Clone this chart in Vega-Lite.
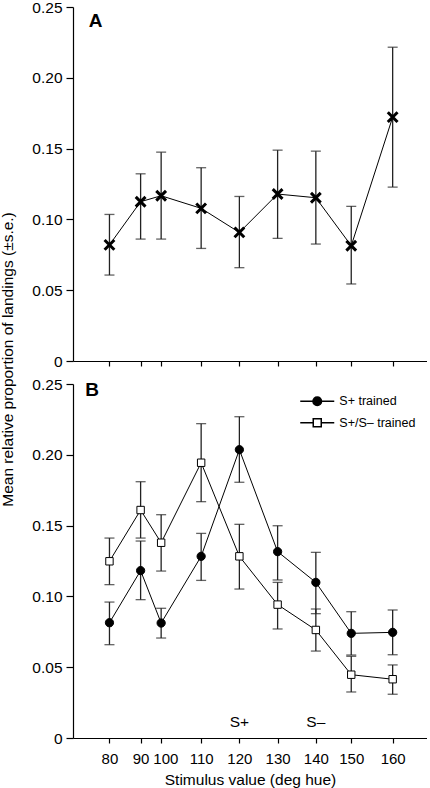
{
  "$schema": "https://vega.github.io/schema/vega-lite/v6.json",
  "background": "white",
  "padding": {"left": 0, "top": 0, "right": 0, "bottom": 0},
  "spacing": 23,
  "bounds": "flush",
  "resolve": {
    "scale": {"shape": "independent", "fill": "independent"},
    "legend": {"shape": "independent", "fill": "independent"}
  },
  "config": {
    "view": {"stroke": null},
    "font": "Liberation Sans",
    "axis": {
      "grid": false,
      "domainColor": "black",
      "domainWidth": 1.2,
      "tickColor": "black",
      "tickWidth": 1.2,
      "labelColor": "black",
      "titleColor": "black",
      "labelFont": "Liberation Sans",
      "titleFont": "Liberation Sans",
      "labelFontSize": 15.5,
      "titleFontSize": 15.5,
      "titleFontWeight": "normal"
    },
    "legend": {
      "labelFont": "Liberation Sans",
      "labelFontSize": 12.5,
      "labelColor": "black"
    }
  },
  "datasets": {
    "a": [
      {"hue": 80, "mean": 0.082, "lo": 0.0607, "hi": 0.1035},
      {"hue": 88.8, "mean": 0.1125, "lo": 0.0861, "hi": 0.1322},
      {"hue": 94.6, "mean": 0.1167, "lo": 0.0861, "hi": 0.1475},
      {"hue": 105.9, "mean": 0.1078, "lo": 0.0795, "hi": 0.1365},
      {"hue": 116.7, "mean": 0.0908, "lo": 0.0659, "hi": 0.1162},
      {"hue": 127.5, "mean": 0.1179, "lo": 0.0866, "hi": 0.1489},
      {"hue": 138.3, "mean": 0.1153, "lo": 0.0826, "hi": 0.1482},
      {"hue": 148.3, "mean": 0.0814, "lo": 0.0544, "hi": 0.1092},
      {"hue": 160, "mean": 0.1722, "lo": 0.1228, "hi": 0.2216}
    ],
    "b": [
      {"group": "S+ trained", "hue": 80, "mean": 0.0814, "lo": 0.0659, "hi": 0.096},
      {"group": "S+ trained", "hue": 88.8, "mean": 0.1182, "lo": 0.0977, "hi": 0.1391},
      {"group": "S+ trained", "hue": 94.6, "mean": 0.0812, "lo": 0.0706, "hi": 0.0916},
      {"group": "S+ trained", "hue": 105.9, "mean": 0.1283, "lo": 0.1113, "hi": 0.1445},
      {"group": "S+ trained", "hue": 116.7, "mean": 0.2036, "lo": 0.1806, "hi": 0.2269},
      {"group": "S+ trained", "hue": 127.5, "mean": 0.1316, "lo": 0.1116, "hi": 0.1499},
      {"group": "S+ trained", "hue": 138.3, "mean": 0.1099, "lo": 0.0878, "hi": 0.1311},
      {"group": "S+ trained", "hue": 148.3, "mean": 0.0739, "lo": 0.0586, "hi": 0.0892},
      {"group": "S+ trained", "hue": 160, "mean": 0.0746, "lo": 0.0588, "hi": 0.0904},
      {"group": "S+/S– trained", "hue": 80, "mean": 0.1248, "lo": 0.1083, "hi": 0.1412},
      {"group": "S+/S– trained", "hue": 88.8, "mean": 0.161, "lo": 0.1412, "hi": 0.181},
      {"group": "S+/S– trained", "hue": 94.6, "mean": 0.1379, "lo": 0.1179, "hi": 0.1577},
      {"group": "S+/S– trained", "hue": 105.9, "mean": 0.1944, "lo": 0.1669, "hi": 0.222},
      {"group": "S+/S– trained", "hue": 116.7, "mean": 0.1283, "lo": 0.1052, "hi": 0.1509},
      {"group": "S+/S– trained", "hue": 127.5, "mean": 0.0942, "lo": 0.077, "hi": 0.1099},
      {"group": "S+/S– trained", "hue": 138.3, "mean": 0.0763, "lo": 0.0614, "hi": 0.0911},
      {"group": "S+/S– trained", "hue": 148.3, "mean": 0.0447, "lo": 0.0325, "hi": 0.0577},
      {"group": "S+/S– trained", "hue": 160, "mean": 0.0415, "lo": 0.0309, "hi": 0.0516}
    ],
    "notes": [
      {"hue": 116.7, "label": "S+"},
      {"hue": 138.3, "label": "S–"}
    ],
    "letterA": [{"hue": 76.1, "label": "A"}],
    "letterB": [{"hue": 75.1, "label": "B"}]
  },
  "vconcat": [
    {
      "width": 354,
      "height": 354,
      "layer": [
        {
          "data": {"name": "a"},
          "mark": {"type": "rule", "color": "#222", "strokeWidth": 1.3},
          "encoding": {
            "x": {
              "field": "hue", "type": "quantitative",
              "scale": {"domain": [69.7, 169.7], "nice": false, "zero": false},
              "axis": {"values": [80, 88.8, 94.6, 105.9, 116.7, 127.5, 138.3, 148.3, 160], "labels": false, "title": null, "tickSize": 5}
            },
            "y": {
              "field": "lo", "type": "quantitative", "title": null,
              "scale": {"domain": [0, 0.25], "nice": false},
              "axis": {"values": [0, 0.05, 0.1, 0.15, 0.2, 0.25], "labelExpr": "datum.value == 0 ? '0' : format(datum.value, '.2f')", "tickSize": 7, "labelPadding": 4, "title": null}
            },
            "y2": {"field": "hi"}
          }
        },
        {
          "data": {"name": "a"},
          "mark": {"type": "tick", "orient": "horizontal", "color": "#222", "size": 10, "thickness": 1.3},
          "encoding": {
            "x": {"field": "hue", "type": "quantitative"},
            "y": {"field": "lo", "type": "quantitative", "title": null}
          }
        },
        {
          "data": {"name": "a"},
          "mark": {"type": "tick", "orient": "horizontal", "color": "#222", "size": 10, "thickness": 1.3},
          "encoding": {
            "x": {"field": "hue", "type": "quantitative"},
            "y": {"field": "hi", "type": "quantitative", "title": null}
          }
        },
        {
          "data": {"name": "a"},
          "mark": {"type": "line", "color": "black", "strokeWidth": 1},
          "encoding": {
            "x": {"field": "hue", "type": "quantitative"},
            "y": {"field": "mean", "type": "quantitative", "title": null}
          }
        },
        {
          "data": {"name": "a"},
          "mark": {"type": "point", "shape": "M-1,-1L1,1M-1,1L1,-1", "size": 95, "color": "black", "strokeWidth": 3, "opacity": 1, "filled": false},
          "encoding": {
            "x": {"field": "hue", "type": "quantitative"},
            "y": {"field": "mean", "type": "quantitative", "title": null}
          }
        },
        {
          "data": {"name": "letterA"},
          "mark": {"type": "text", "fontSize": 19, "fontWeight": "bold", "baseline": "alphabetic", "align": "center", "color": "black"},
          "encoding": {
            "x": {"field": "hue", "type": "quantitative"},
            "y": {"datum": 0.236, "type": "quantitative"},
            "text": {"field": "label", "type": "nominal"}
          }
        }
      ]
    },
    {
      "width": 354,
      "height": 354,
      "layer": [
        {
          "data": {"name": "b"},
          "mark": {"type": "rule", "color": "#222", "strokeWidth": 1.3},
          "encoding": {
            "x": {
              "field": "hue", "type": "quantitative",
              "scale": {"domain": [69.7, 169.7], "nice": false, "zero": false},
              "axis": {
                "values": [80, 88.8, 94.6, 105.9, 116.7, 127.5, 138.3, 148.3, 160],
                "labelExpr": "['80','90','\u200b\u00a0\u00a0100','110','120','130','140','150','160'][indexof([80,88.8,94.6,105.9,116.7,127.5,138.3,148.3,160], datum.value)]",
                "title": "Stimulus value (deg hue)", "tickSize": 5, "labelPadding": 8, "titlePadding": 6,
                "labelOverlap": false, "labelFlush": false, "labelFontSize": 15
              }
            },
            "y": {
              "field": "lo", "type": "quantitative", "title": "Mean relative proportion of landings (±s.e.)",
              "scale": {"domain": [0, 0.25], "nice": false},
              "axis": {"values": [0, 0.05, 0.1, 0.15, 0.2, 0.25], "labelExpr": "datum.value == 0 ? '0' : format(datum.value, '.2f')", "tickSize": 7, "labelPadding": 4, "titleX": -60.2, "titleY": -25, "titleBaseline": "alphabetic", "titleAngle": -90, "titleAlign": "center"}
            },
            "y2": {"field": "hi"}
          }
        },
        {
          "data": {"name": "b"},
          "mark": {"type": "tick", "orient": "horizontal", "color": "#222", "size": 10, "thickness": 1.3},
          "encoding": {
            "x": {"field": "hue", "type": "quantitative"},
            "y": {"field": "lo", "type": "quantitative"}
          }
        },
        {
          "data": {"name": "b"},
          "mark": {"type": "tick", "orient": "horizontal", "color": "#222", "size": 10, "thickness": 1.3},
          "encoding": {
            "x": {"field": "hue", "type": "quantitative"},
            "y": {"field": "hi", "type": "quantitative"}
          }
        },
        {
          "data": {"name": "b"},
          "mark": {"type": "line", "color": "black", "strokeWidth": 1},
          "encoding": {
            "x": {"field": "hue", "type": "quantitative"},
            "y": {"field": "mean", "type": "quantitative"},
            "detail": {"field": "group", "type": "nominal"}
          }
        },
        {
          "data": {"name": "b"},
          "transform": [{"filter": "datum.group === 'S+ trained'"}],
          "mark": {"type": "point", "shape": "circle", "filled": true, "fill": "black", "opacity": 1, "stroke": "black", "strokeWidth": 1, "size": 68},
          "encoding": {
            "x": {"field": "hue", "type": "quantitative"},
            "y": {"field": "mean", "type": "quantitative"}
          }
        },
        {
          "data": {"name": "b"},
          "transform": [{"filter": "datum.group !== 'S+ trained'"}],
          "mark": {"type": "point", "shape": "square", "filled": true, "fill": "white", "opacity": 1, "stroke": "black", "strokeWidth": 1, "size": 55},
          "encoding": {
            "x": {"field": "hue", "type": "quantitative"},
            "y": {"field": "mean", "type": "quantitative"}
          }
        },
        {
          "data": {"name": "b"},
          "transform": [{"filter": "datum.hue < 0"}],
          "mark": {"type": "point", "filled": true, "opacity": 1, "stroke": "black", "strokeWidth": 1},
          "encoding": {
            "x": {"field": "hue", "type": "quantitative"},
            "y": {"field": "mean", "type": "quantitative"},
            "shape": {
              "field": "group", "type": "nominal", "title": null,
              "scale": {"domain": ["S+ trained", "S+/S– trained"], "range": ["M-3.4,0H-0.86M0.86,0H3.4M-0.86,0A0.86,0.86,0,1,0,0.86,0A0.86,0.86,0,1,0,-0.86,0Z", "M-3.4,0H-0.8M0.8,0H3.4M-0.8,-0.8H0.8V0.8H-0.8Z"]},
              "legend": {"orient": "top-right", "offset": 11, "padding": 0, "title": null, "symbolSize": 100, "labelOffset": 15.8, "rowPadding": 6.5}
            },
            "fill": {
              "field": "group", "type": "nominal", "title": null,
              "scale": {"domain": ["S+ trained", "S+/S– trained"], "range": ["black", "white"]},
              "legend": {"orient": "top-right", "offset": 11, "padding": 0, "title": null, "symbolSize": 100, "labelOffset": 15.8, "rowPadding": 6.5}
            }
          }
        },
        {
          "data": {"name": "notes"},
          "mark": {"type": "text", "fontSize": 15.5, "baseline": "alphabetic", "align": "center", "color": "black"},
          "encoding": {
            "x": {"field": "hue", "type": "quantitative"},
            "y": {"datum": 0.0078, "type": "quantitative"},
            "text": {"field": "label", "type": "nominal"}
          }
        },
        {
          "data": {"name": "letterB"},
          "mark": {"type": "text", "fontSize": 19, "fontWeight": "bold", "baseline": "alphabetic", "align": "center", "color": "black"},
          "encoding": {
            "x": {"field": "hue", "type": "quantitative"},
            "y": {"datum": 0.2415, "type": "quantitative"},
            "text": {"field": "label", "type": "nominal"}
          }
        }
      ]
    }
  ]
}
